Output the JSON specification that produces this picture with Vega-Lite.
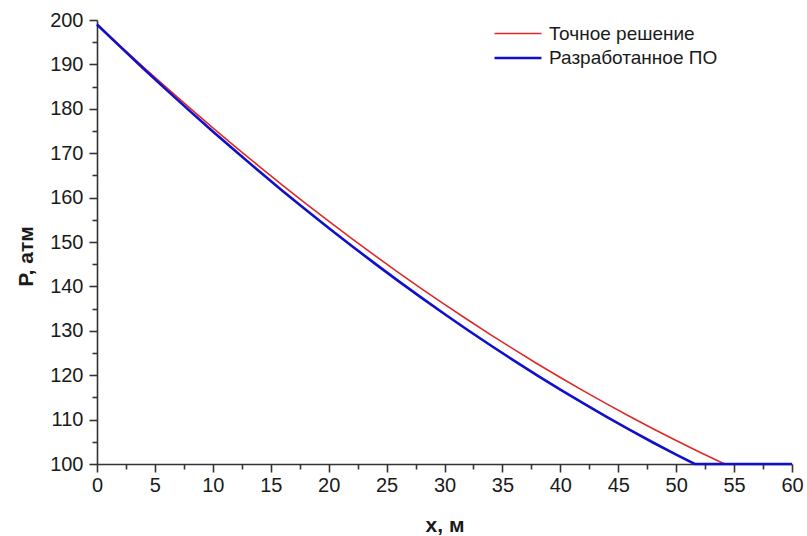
{
  "$schema": "https://vega.github.io/schema/vega-lite/v6.json",
  "width": 695,
  "height": 444,
  "autosize": {"type": "none"},
  "padding": {"left": 97, "top": 20, "right": 15, "bottom": 72},
  "background": "white",
  "config": {
    "view": {"stroke": null},
    "font": "Liberation Sans",
    "axis": {
      "domainColor": "#333333",
      "domainWidth": 1.6,
      "tickColor": "#333333",
      "tickWidth": 1.6,
      "grid": false,
      "labelFlush": false,
      "labelFont": "Liberation Sans",
      "labelColor": "#1a1a1a",
      "labelFontSize": 20,
      "titleFont": "Liberation Sans",
      "titleColor": "#1a1a1a",
      "titleFontSize": 21,
      "titleFontWeight": "bold"
    },
    "legend": {
      "labelFont": "Liberation Sans",
      "labelFontSize": 19,
      "labelColor": "#1a1a1a",
      "labelLimit": 400,
      "symbolType": "M0,0H6",
      "symbolSize": 245,
      "symbolFillColor": "transparent",
      "labelOffset": 45,
      "rowPadding": 4.5,
      "padding": 0
    }
  },
  "datasets": {
    "curves": [
      {"x": 0, "p": 199.0, "s": "Точное решение"},
      {"x": 2, "p": 194.16, "s": "Точное решение"},
      {"x": 4, "p": 189.41, "s": "Точное решение"},
      {"x": 6, "p": 184.76, "s": "Точное решение"},
      {"x": 8, "p": 180.19, "s": "Точное решение"},
      {"x": 10, "p": 175.72, "s": "Точное решение"},
      {"x": 12, "p": 171.33, "s": "Точное решение"},
      {"x": 14, "p": 167.04, "s": "Точное решение"},
      {"x": 16, "p": 162.83, "s": "Точное решение"},
      {"x": 18, "p": 158.72, "s": "Точное решение"},
      {"x": 20, "p": 154.70, "s": "Точное решение"},
      {"x": 22, "p": 150.77, "s": "Точное решение"},
      {"x": 24, "p": 146.93, "s": "Точное решение"},
      {"x": 26, "p": 143.18, "s": "Точное решение"},
      {"x": 28, "p": 139.52, "s": "Точное решение"},
      {"x": 30, "p": 135.96, "s": "Точное решение"},
      {"x": 32, "p": 132.48, "s": "Точное решение"},
      {"x": 34, "p": 129.09, "s": "Точное решение"},
      {"x": 36, "p": 125.80, "s": "Точное решение"},
      {"x": 38, "p": 122.59, "s": "Точное решение"},
      {"x": 40, "p": 119.48, "s": "Точное решение"},
      {"x": 42, "p": 116.46, "s": "Точное решение"},
      {"x": 44, "p": 113.53, "s": "Точное решение"},
      {"x": 46, "p": 110.69, "s": "Точное решение"},
      {"x": 48, "p": 107.93, "s": "Точное решение"},
      {"x": 50, "p": 105.28, "s": "Точное решение"},
      {"x": 52, "p": 102.71, "s": "Точное решение"},
      {"x": 54, "p": 100.23, "s": "Точное решение"},
      {"x": 54.2, "p": 100.0, "s": "Точное решение"},
      {"x": 60, "p": 100.0, "s": "Точное решение"},
      {"x": 0, "p": 199.0, "s": "Разработанное ПО"},
      {"x": 2, "p": 193.99, "s": "Разработанное ПО"},
      {"x": 4, "p": 189.08, "s": "Разработанное ПО"},
      {"x": 6, "p": 184.26, "s": "Разработанное ПО"},
      {"x": 8, "p": 179.53, "s": "Разработанное ПО"},
      {"x": 10, "p": 174.90, "s": "Разработанное ПО"},
      {"x": 12, "p": 170.36, "s": "Разработанное ПО"},
      {"x": 14, "p": 165.92, "s": "Разработанное ПО"},
      {"x": 16, "p": 161.57, "s": "Разработанное ПО"},
      {"x": 18, "p": 157.32, "s": "Разработанное ПО"},
      {"x": 20, "p": 153.16, "s": "Разработанное ПО"},
      {"x": 22, "p": 149.10, "s": "Разработанное ПО"},
      {"x": 24, "p": 145.13, "s": "Разработанное ПО"},
      {"x": 26, "p": 141.25, "s": "Разработанное ПО"},
      {"x": 28, "p": 137.47, "s": "Разработанное ПО"},
      {"x": 30, "p": 133.78, "s": "Разработанное ПО"},
      {"x": 32, "p": 130.19, "s": "Разработанное ПО"},
      {"x": 34, "p": 126.69, "s": "Разработанное ПО"},
      {"x": 36, "p": 123.29, "s": "Разработанное ПО"},
      {"x": 38, "p": 119.98, "s": "Разработанное ПО"},
      {"x": 40, "p": 116.76, "s": "Разработанное ПО"},
      {"x": 42, "p": 113.64, "s": "Разработанное ПО"},
      {"x": 44, "p": 110.61, "s": "Разработанное ПО"},
      {"x": 46, "p": 107.68, "s": "Разработанное ПО"},
      {"x": 48, "p": 104.84, "s": "Разработанное ПО"},
      {"x": 50, "p": 102.10, "s": "Разработанное ПО"},
      {"x": 51.6, "p": 100.0, "s": "Разработанное ПО"},
      {"x": 60, "p": 100.0, "s": "Разработанное ПО"}
    ]
  },
  "data": {"name": "curves"},
  "resolve": {"axis": {"x": "independent", "y": "independent"}},
  "layer": [
    {
      "description": "minor ticks only, no visible marks",
      "mark": {"type": "point", "opacity": 0},
      "encoding": {
        "x": {
          "field": "x", "type": "quantitative",
          "scale": {"domain": [0, 60], "nice": false, "zero": false},
          "axis": {
            "orient": "bottom", "values": [2.5, 7.5, 12.5, 17.5, 22.5, 27.5, 32.5, 37.5, 42.5, 47.5, 52.5, 57.5],
            "labels": false, "domain": false, "tickSize": 5, "title": null
          }
        },
        "y": {
          "field": "p", "type": "quantitative",
          "scale": {"domain": [100, 200], "nice": false, "zero": false},
          "axis": {
            "orient": "left", "values": [105, 115, 125, 135, 145, 155, 165, 175, 185, 195],
            "labels": false, "domain": false, "tickSize": 5, "title": null
          }
        }
      }
    },
    {
      "mark": {"type": "line", "clip": false},
      "encoding": {
        "x": {
          "field": "x", "type": "quantitative",
          "axis": {
            "orient": "bottom", "values": [0, 5, 10, 15, 20, 25, 30, 35, 40, 45, 50, 55, 60],
            "tickSize": 8, "labelPadding": 3, "title": "x, м",
            "titleY": 67, "titleBaseline": "alphabetic"
          }
        },
        "y": {
          "field": "p", "type": "quantitative",
          "axis": {
            "orient": "left", "values": [100, 110, 120, 130, 140, 150, 160, 170, 180, 190, 200],
            "tickSize": 8, "labelPadding": 6, "title": "P, атм",
            "titleX": -65, "titleY": 236, "titleBaseline": "alphabetic", "titleAngle": -90
          }
        },
        "color": {
          "field": "s", "type": "nominal",
          "scale": {"domain": ["Точное решение", "Разработанное ПО"], "range": ["#e02828", "#1010cc"]},
          "legend": {"title": null, "orient": "none", "legendX": 388, "legendY": 4}
        },
        "strokeWidth": {
          "field": "s", "type": "nominal",
          "scale": {"domain": ["Точное решение", "Разработанное ПО"], "range": [1.6, 2.6]},
          "legend": {"title": null, "orient": "none", "legendX": 388, "legendY": 4}
        }
      }
    }
  ]
}
